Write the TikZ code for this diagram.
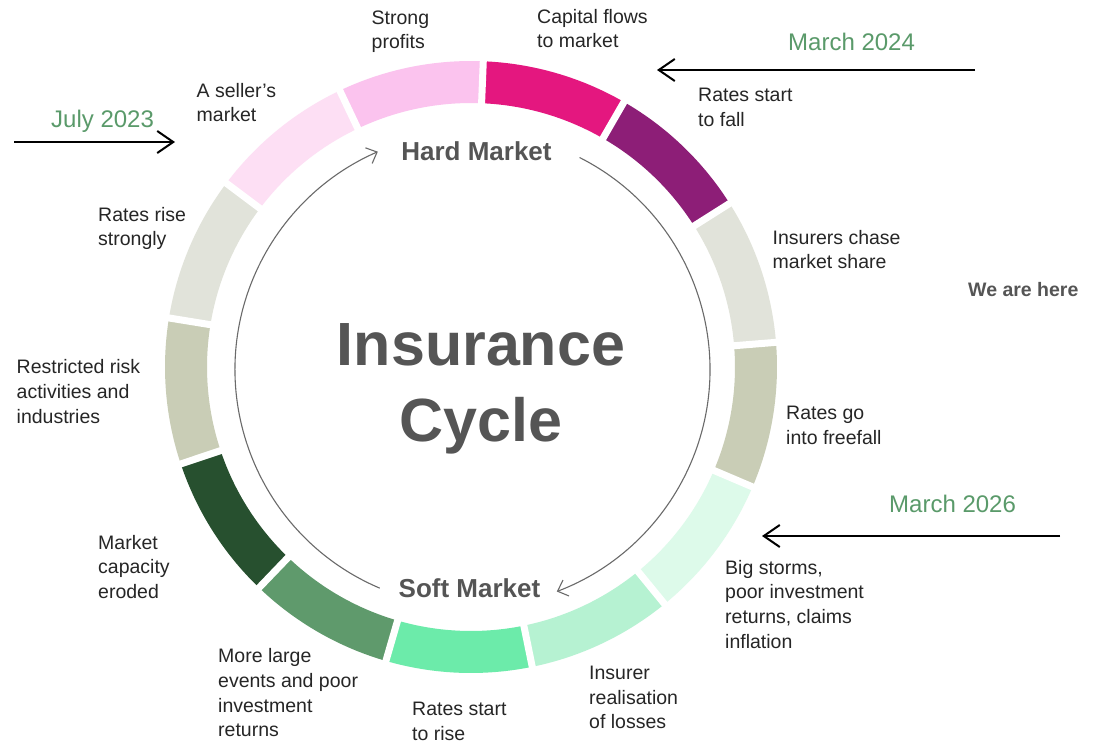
\documentclass[tikz,border=0pt]{standalone}
\usepackage{fontspec}
\setmainfont{Liberation Sans}
\usetikzlibrary{arrows.meta}
\definecolor{labeltext}{HTML}{262626}
\definecolor{titlegray}{HTML}{555555}
\definecolor{dategreen}{HTML}{5A9A6A}
\definecolor{arcgray}{HTML}{6A6A6A}
\definecolor{sA}{HTML}{E4177F}
\definecolor{sB}{HTML}{8D1E77}
\definecolor{sC}{HTML}{E1E3DA}
\definecolor{sD}{HTML}{C9CDB6}
\definecolor{sE}{HTML}{DDFAEA}
\definecolor{sF}{HTML}{B6F2D2}
\definecolor{sG}{HTML}{6CEBAA}
\definecolor{sH}{HTML}{5F9A6C}
\definecolor{sI}{HTML}{27502F}
\definecolor{sJ}{HTML}{C9CDB6}
\definecolor{sK}{HTML}{E1E3DA}
\definecolor{sL}{HTML}{FDDFF4}
\definecolor{sM}{HTML}{FBC3EE}
\begin{document}
\begin{tikzpicture}[x=1pt,y=-1pt,
  lbl/.style={anchor=north west, inner sep=0pt, align=left,
    font=\fontsize{19.5}{24.7}\selectfont, text=labeltext},
  datelbl/.style={anchor=base west, inner sep=0pt,
    font=\fontsize{24}{28}\selectfont, text=dategreen},
  phase/.style={anchor=base, inner sep=0pt,
    font=\fontsize{26}{30}\selectfont\bfseries, text=titlegray},
  datearrow/.style={line width=2pt, black, -{Straight Barb[length=16pt,width=22pt]}},
  cyclearrow/.style={line width=1.1pt, arcgray, -{Straight Barb[length=9pt,width=17pt]}}]
\useasboundingbox (0,0) rectangle (1093,742);
\fill[white] (0,0) rectangle (1093,742);
\coordinate (C) at (471,367);
\coordinate (Ci) at (472.5,369.5);
% ring segments
\foreach \c [count=\i from 0] in {sA,sB,sC,sD,sE,sF,sG,sH,sI,sJ,sK,sL,sM} {
  \pgfmathsetmacro\ta{-87.7+27.6923*\i}
  \pgfmathsetmacro\tb{\ta+27.6923}
  \fill[\c] (C) ++(\ta:306) arc[start angle=\ta, end angle=\tb, radius=306]
    -- ++(\tb:-42) arc[start angle=\tb, end angle=\ta, radius=264] -- cycle;
}
\foreach \i in {0,...,12} {
  \pgfmathsetmacro\ta{-87.7+27.6923*\i}
  \draw[white, line width=7pt] (C) ++(\ta:255) -- ++(\ta:60);
}
% inner cycle arrows
\draw[cyclearrow] (Ci) ++(-247:237.5) arc[start angle=-247, end angle=-113.5, radius=237.5];
\draw[cyclearrow] (Ci) ++(-63.2:237.5) arc[start angle=-63.2, end angle=69.2, radius=237.5];
% titles
\node[phase] (hard) at (476.5,160) {Hard Market};
\node[phase] (soft) at (469.5,597) {Soft Market};
\node[anchor=base, inner sep=0pt, align=center, text=titlegray,
  font=\fontsize{61}{76}\selectfont\bfseries] (title) at (481,441) {Insurance\\Cycle};
% labels
\node[lbl] (l1) at (537,8.8) {Capital flows\\to market};
\node[lbl] (l2) at (698,87.8) {Rates start\\to fall};
\node[lbl] (l3) at (772.5,229.8) {Insurers chase\\market share};
\node[lbl] (l4) at (786,405.8) {Rates go\\into freefall};
\node[lbl] (l5) at (725,559.8) {Big storms,\\poor investment\\returns, claims\\inflation};
\node[lbl] (l6) at (589,665.8) {Insurer\\realisation\\of losses};
\node[lbl] (l7) at (412,701.8) {Rates start\\to rise};
\node[lbl] (l8) at (218,648.3) {More large\\events and poor\\investment\\returns};
\node[lbl] (l9) at (98,534.8) {Market\\capacity\\eroded};
\node[lbl] (l10) at (16.5,359.5) {Restricted risk\\activities and\\industries};
\node[lbl] (l11) at (98,206.8) {Rates rise\\strongly};
\node[lbl] (l12) at (196.5,82.8) {A seller’s\\market};
\node[lbl] (l13) at (371.5,10.3) {Strong\\profits};
\node[anchor=base west, inner sep=0pt, font=\fontsize{19.5}{24}\selectfont\bfseries,
  text=titlegray] (here) at (968,296) {We are here};
% dates
\node[datelbl] (d1) at (51,127.5) {July 2023};
\node[datelbl] (d2) at (788,50) {March 2024};
\node[datelbl] (d3) at (889,512.5) {March 2026};
\coordinate (a1s) at (14,142);
\coordinate (a1e) at (175,142);
\coordinate (a2s) at (975,70);
\coordinate (a2e) at (657,70);
\coordinate (a3s) at (1060,536);
\coordinate (a3e) at (762,536);
\draw[datearrow] (a1s) -- (a1e);
\draw[datearrow] (a2s) -- (a2e);
\draw[datearrow] (a3s) -- (a3e);
\end{tikzpicture}
\end{document}
